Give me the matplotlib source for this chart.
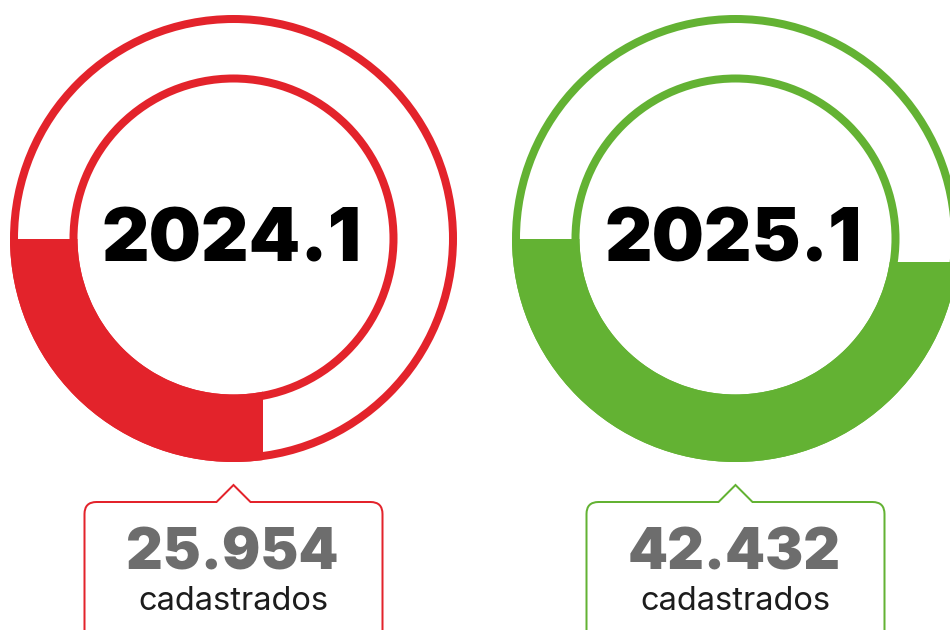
import numpy as np
import matplotlib
matplotlib.use("Agg")
import matplotlib.pyplot as plt
from matplotlib.patches import Circle, Wedge, Polygon
from matplotlib.path import Path
from matplotlib.patches import PathPatch

# ============================================================
# DATA
# ============================================================

periods = ["2024.1", "2025.1"]
registered = ["25.954", "42.432"]
sub_label = "cadastrados"
fill_frac = [0.55, 0.96]          # share of the lower half-ring that is filled
colors = ["#e3232b", "#63b233"]

# ============================================================
# LAYOUT (pixel coordinates, y measured from top)
# ============================================================

W, H = 950, 630
centers_x = [233.5, 735.5]
center_y = 238.5
R_OUT = 223.5      # outer edge of outer ring
R_RING = 219.5     # centre line of outer ring
R_INNER = 160      # centre line of inner ring
R_IN_EDGE = 156
RING_W = 8         # px

px2pt = 72 / 100


def yy(y_pix):
    return H - y_pix


fig = plt.figure(figsize=(W / 100, H / 100), dpi=100)
ax = fig.add_axes([0, 0, 1, 1])
ax.set_xlim(0, W)
ax.set_ylim(0, H)
ax.set_aspect("equal")
ax.axis("off")

for i in range(len(periods)):
    cx, cy = centers_x[i], yy(center_y)
    col = colors[i]

    # filled part of the ring, cut by an axis aligned line at the end
    end_ang = 180 + 180 * fill_frac[i]
    r_mid = (R_OUT + R_IN_EDGE) / 2
    ex = cx + r_mid * np.cos(np.radians(end_ang))
    ey = cy + r_mid * np.sin(np.radians(end_ang))
    big = R_OUT + 20
    if end_ang <= 315:
        clip_pts = [(cx - big, cy), (cx - big, cy - big), (ex, cy - big), (ex, cy)]
    else:
        clip_pts = [(cx - big, cy), (cx - big, cy - big), (cx + big, cy - big),
                    (cx + big, ey), (cx, ey), (cx, cy)]
    clip = Polygon(clip_pts, closed=True, transform=ax.transData, facecolor="none", edgecolor="none")
    ax.add_patch(clip)
    fill = Wedge((cx, cy), R_OUT, 180, 360, width=R_OUT - R_IN_EDGE, facecolor=col, edgecolor="none")
    ax.add_patch(fill)
    fill.set_clip_path(clip)

    # ring outlines
    ax.add_patch(Circle((cx, cy), R_RING, fill=False, edgecolor=col, linewidth=RING_W * px2pt))
    ax.add_patch(Circle((cx, cy), R_INNER, fill=False, edgecolor=col, linewidth=RING_W * px2pt))

    # period label
    ax.text(cx - 2, yy(262), periods[i], ha="center", va="baseline", fontsize=53,
            fontfamily="Inter", fontweight=900, color="black")

    # callout box with notch
    x0, x1 = cx - 149, cx + 149
    top = yy(502)
    bot = yy(660)
    r = 12
    verts = [(x0, bot), (x0, top - r), (x0, top), (x0 + r, top),
             (cx - 17, top), (cx, yy(485)), (cx + 17, top),
             (x1 - r, top), (x1, top), (x1, top - r), (x1, bot)]
    codes = [Path.MOVETO, Path.LINETO, Path.CURVE3, Path.CURVE3,
             Path.LINETO, Path.LINETO, Path.LINETO,
             Path.LINETO, Path.CURVE3, Path.CURVE3, Path.LINETO]
    ax.add_patch(PathPatch(Path(verts, codes), facecolor="none", edgecolor=col,
                           linewidth=2 * px2pt, joinstyle="miter"))

    ax.text(cx - 1, yy(570), registered[i], ha="center", va="baseline", fontsize=41,
            fontfamily="Inter", fontweight=900, color="#6d6d6d")
    ax.text(cx, yy(610), sub_label, ha="center", va="baseline", fontsize=23.5,
            fontfamily="Inter", fontweight=400, color="#1c1c1c")

fig.savefig("out.png", dpi=100)
